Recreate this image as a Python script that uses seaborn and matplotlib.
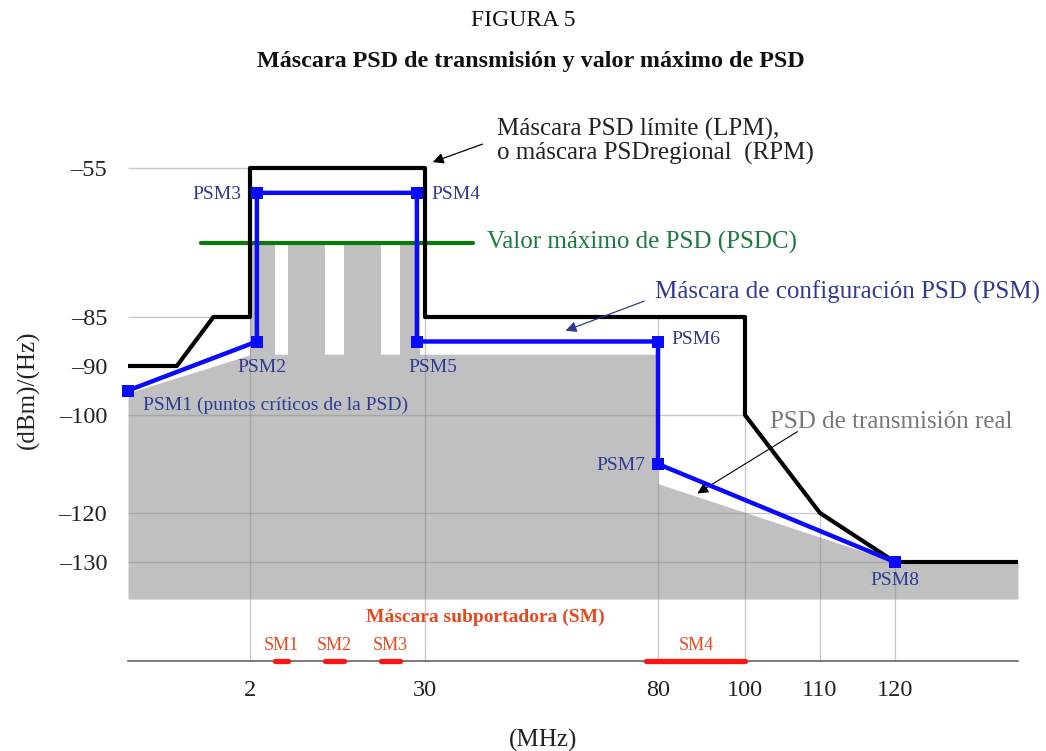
import numpy as np
import matplotlib.pyplot as plt
import seaborn as sns

# Máscara PSD límite (LPM): frecuencia (MHz) y nivel (dBm/Hz)
lpm_f = [0, 0.8, 1.4, 2, 2, 30, 30, 100, 100, 110, 120, 136.4]
lpm_db = [-90, -90, -85, -85, -55, -55, -85, -85, -100, -120, -130, -130]

# Máscara de configuración PSD (PSM)
psm_f = [0, 3.1, 3.1, 28.7, 28.7, 80, 80, 120]
psm_db = [-95, -87.5, -60, -60, -87.5, -87.5, -110, -130]
psm_nombres = ['PSM1 (puntos críticos de la PSD)', 'PSM2', 'PSM3', 'PSM4',
               'PSM5', 'PSM6', 'PSM7', 'PSM8']

# PSD de transmisión real (parte baja)
real_f = [0, 2.3, 80, 80, 120, 136.4]
real_db = [-95.5, -88.8, -88.8, -114, -130, -130]
real_fondo = -137.5

# bandas que llegan al valor máximo de PSD (PSDC)
banda_ini = [2, 8, 17, 26]
banda_fin = [6, 14, 23, 29.2]
psdc = -70
psdc_f = [1.2, 40.3]

# máscara subportadora (SM)
sm_nombres = ['SM1', 'SM2', 'SM3', 'SM4']
sm_ini = [6, 14, 23, 77.5]
sm_fin = [8, 17, 26, 100]

x_ticks = [2, 30, 80, 100, 110, 120]
y_ticks = [-55, -85, -90, -100, -120, -130]
y_etiquetas = ['–55', '–85', '–90', '–100', '–120', '–130']

# el esquema no es lineal: valor -> posición en el dibujo
fx_val = [0, 2, 30, 80, 100, 110, 120, 136.4]
fx_pos = [0, 122, 297, 530, 617, 692, 767, 890]
fy_val = [-150, -130, -120, -100, -90, -85, -55, -40]
fy_pos = [0, 99, 148, 246, 295, 344, 493, 567.5]

azul_txt = '#2e3a94'
rojo_txt = '#e8481c'

sns.set_theme(style='white')
plt.rcParams['font.family'] = ['Liberation Serif', 'DejaVu Serif']

fig = plt.figure(figsize=(10.46, 7.51), dpi=100)
ax = fig.add_axes([128 / 1046, 90 / 751, 890 / 1046, 567.5 / 751])


def cruce(v):
    # primera frecuencia donde la LPM llega al nivel v
    for i in range(len(lpm_f) - 1):
        a, b = lpm_db[i] - v, lpm_db[i + 1] - v
        if a == 0:
            return lpm_f[i]
        if a * b < 0:
            return lpm_f[i] + (lpm_f[i + 1] - lpm_f[i]) * a / (a - b)
    return lpm_f[-1]


def tope(t):
    vals = [d for f, d in zip(lpm_f, lpm_db) if f == t]
    return max(vals) if vals else np.interp(t, lpm_f, lpm_db)


# PSD real (gris)
ax.fill_between(real_f, real_db, real_fondo, color='#c0c0c0', lw=0, zorder=1)
ax.bar(banda_ini, np.array(psdc) - real_fondo, width=np.array(banda_fin) - np.array(banda_ini),
       bottom=real_fondo, align='edge', color='#c0c0c0', lw=0, zorder=1)

# rejilla hasta la LPM
for v in y_ticks:
    ax.hlines(v, 0, cruce(v), color='#888888', alpha=0.45, lw=1, zorder=1.5)
for t in x_ticks:
    ax.vlines(t, -150, tope(t), color='#888888', alpha=0.45, lw=1, zorder=1.5)

# PSDC
sns.lineplot(x=psdc_f, y=[psdc, psdc], color='#0a7a0a', lw=3, ax=ax, zorder=2)

# LPM
sns.lineplot(x=lpm_f, y=lpm_db, sort=False, estimator=None, color='black',
             lw=3, ax=ax, zorder=3)

# PSM
sns.lineplot(x=psm_f, y=psm_db, sort=False, estimator=None, color='#0a0aff',
             lw=3.2, marker='s', markersize=8, markeredgewidth=0, clip_on=False,
             ax=ax, zorder=4)

offs = [(10.8, -10.8, 'left'), (3.6, -18.7, 'center'), (-10.8, -1.4, 'right'),
        (10.8, -1.4, 'left'), (11.5, -18.7, 'center'), (9.4, 1.4, 'left'),
        (-9.4, -1.4, 'right'), (0, -13, 'center')]
for f, d, nombre, (dx, dy, ha) in zip(psm_f, psm_db, psm_nombres, offs):
    ax.annotate(nombre, (f, d), xytext=(dx, dy), textcoords='offset points',
                ha=ha, va='center', fontsize=14, color=azul_txt, zorder=6)

# máscara subportadora
for a, b, nombre in zip(sm_ini, sm_fin, sm_nombres):
    ax.plot([a, b], [-150, -150], color='#ff1414', lw=3.8, solid_capstyle='round',
            clip_on=False, zorder=5)
    ax.text((a + b) / 2, -146.8, nombre, ha='center', va='center', fontsize=13,
            color=rojo_txt)
ax.text(42.9, -141.1, 'Máscara subportadora (SM)', ha='center', va='center',
        fontsize=14, fontweight='bold', color=rojo_txt)

# textos y flechas
ax.text(45.45, -49.7, 'Máscara PSD límite (LPM),\no máscara PSDregional  (RPM)',
        ha='left', va='center', fontsize=18, color='#222222', linespacing=1.05)
ax.annotate('', xy=(31.1, -54), xytext=(42.9, -50),
            arrowprops=dict(arrowstyle='-|>', color='black', lw=0.9, mutation_scale=16))
ax.text(43.3, -69.9, 'Valor máximo de PSD (PSDC)', ha='left', va='center',
        fontsize=18, color='#1b7a40')
ax.text(79.4, -80, 'Máscara de configuración PSD (PSM)', ha='left', va='center',
        fontsize=18, color=azul_txt)
ax.annotate('', xy=(59.6, -86.5), xytext=(77.6, -81.6),
            arrowprops=dict(arrowstyle='-|>', color=azul_txt, lw=0.9, mutation_scale=16))
ax.text(103.3, -101.4, 'PSD de transmisión real', ha='left', va='center',
        fontsize=18, color='#777777')
ax.annotate('', xy=(88.5, -116.3), xytext=(107.3, -103.1),
            arrowprops=dict(arrowstyle='-|>', color='black', lw=0.8, mutation_scale=16))

# escalas del esquema
ax.set_xscale('function', functions=(lambda v: np.interp(v, fx_val, fx_pos),
                                     lambda p: np.interp(p, fx_pos, fx_val)))
ax.set_yscale('function', functions=(lambda v: np.interp(v, fy_val, fy_pos),
                                     lambda p: np.interp(p, fy_pos, fy_val)))
ax.set_xlim(0, 136.4)
ax.set_ylim(-150, -40)
ax.set_xticks(x_ticks)
ax.set_xticklabels([str(t) for t in x_ticks], fontsize=17.5, color='#222222')
ax.set_yticks(y_ticks)
ax.set_yticklabels(y_etiquetas, fontsize=17.5, color='#222222')
ax.tick_params(axis='both', length=0)
ax.tick_params(axis='x', pad=14)
ax.tick_params(axis='y', pad=15)
ax.minorticks_off()
ax.grid(False)
for lado in ['top', 'left', 'right']:
    ax.spines[lado].set_visible(False)
ax.spines['bottom'].set_color('#666666')
ax.spines['bottom'].set_linewidth(1.2)
ax.set_xlabel('')
ax.set_ylabel('')

fig.text(28 / 1046, 1 - 390 / 751, '(dBm)/(Hz)', rotation=90, ha='center',
         va='center', fontsize=18, color='#222222')
fig.text(543 / 1046, 1 - 740 / 751, '(MHz)', ha='center', va='center',
         fontsize=18, color='#222222')
fig.text(523 / 1046, 1 - 20 / 751, 'FIGURA 5', ha='center', va='center',
         fontsize=17, color='#111111')
fig.text(531 / 1046, 1 - 61 / 751, 'Máscara PSD de transmisión y valor máximo de PSD',
         ha='center', va='center', fontsize=17.4, fontweight='bold', color='#111111')

fig.savefig('out.png', dpi=100)
